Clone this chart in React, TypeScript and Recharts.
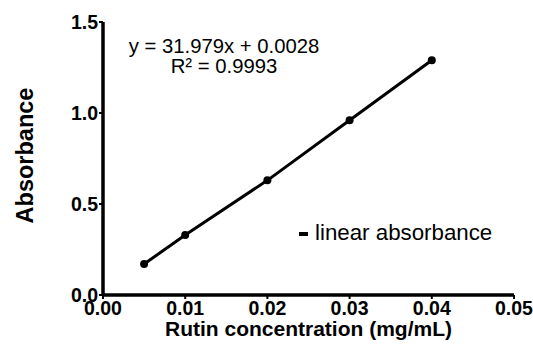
import { ComposedChart, Line, XAxis, YAxis, Label } from "recharts";

const concentration = [0.005, 0.01, 0.02, 0.03, 0.04];
const absorbance = [0.17, 0.33, 0.63, 0.96, 1.29];
const xTicks = [0, 0.01, 0.02, 0.03, 0.04, 0.05];
const yTicks = [0, 0.5, 1.0, 1.5];
const equation = "y = 31.979x + 0.0028";
const rSquared = "R² = 0.9993";
const seriesName = "linear absorbance";

const data = concentration.map((x, i) => ({ x, y: absorbance[i] }));

const font = "'Liberation Sans', Arial, Helvetica, sans-serif";
const tickStyle = { fill: "#000", fontSize: 19.5, fontWeight: 700, fontFamily: font };
const axisLine = { stroke: "#000", strokeWidth: 3.5 };
const tickLine = { stroke: "#000", strokeWidth: 2 };

export default function App() {
  return (
    <div style={{ position: "absolute", left: 0, top: 0, width: 533, height: 349, background: "#fff" }}>
      <ComposedChart width={533} height={349} data={data} margin={{ top: 22, right: 19, bottom: 0, left: 0 }}>
        <XAxis
          type="number"
          dataKey="x"
          domain={[0, 0.05]}
          ticks={xTicks}
          tickFormatter={(v: number) => v.toFixed(2)}
          height={54}
          axisLine={axisLine}
          tickLine={tickLine}
          tickSize={4}
          tickMargin={2}
          tick={tickStyle}
        >
          <Label
            value="Rutin concentration (mg/mL)"
            position="insideBottom"
            offset={13}
            style={{ fill: "#000", fontSize: 21, fontWeight: 700, fontFamily: font }}
          />
        </XAxis>
        <YAxis
          type="number"
          domain={[0, 1.5]}
          ticks={yTicks}
          tickFormatter={(v: number) => v.toFixed(1)}
          width={103}
          axisLine={axisLine}
          tickLine={tickLine}
          tickSize={4}
          tickMargin={1}
          tick={tickStyle}
        >
          <Label
            value="Absorbance"
            angle={-90}
            position="insideLeft"
            offset={25}
            dy={-3}
            style={{ fill: "#000", fontSize: 23.5, fontWeight: 700, fontFamily: font, textAnchor: "middle" }}
          />
        </YAxis>
        <Line
          type="linear"
          dataKey="y"
          stroke="#000"
          strokeWidth={3}
          dot={{ r: 4, fill: "#000", stroke: "#000", strokeWidth: 0 }}
          isAnimationActive={false}
        />
      </ComposedChart>
      <div
        style={{
          position: "absolute",
          left: 99,
          top: 36,
          width: 250,
          textAlign: "center",
          fontFamily: font,
          fontSize: 20.3,
          lineHeight: "20px",
          color: "#000",
        }}
      >
        <div>{equation}</div>
        <div>{rSquared}</div>
      </div>
      <div
        style={{
          position: "absolute",
          left: 299,
          top: 220,
          fontFamily: font,
          fontSize: 22.3,
          color: "#000",
          display: "flex",
          alignItems: "center",
          gap: 7,
        }}
      >
        <span style={{ display: "inline-block", width: 9, height: 4, background: "#000", marginTop: 1 }} />
        <span>{seriesName}</span>
      </div>
    </div>
  );
}
